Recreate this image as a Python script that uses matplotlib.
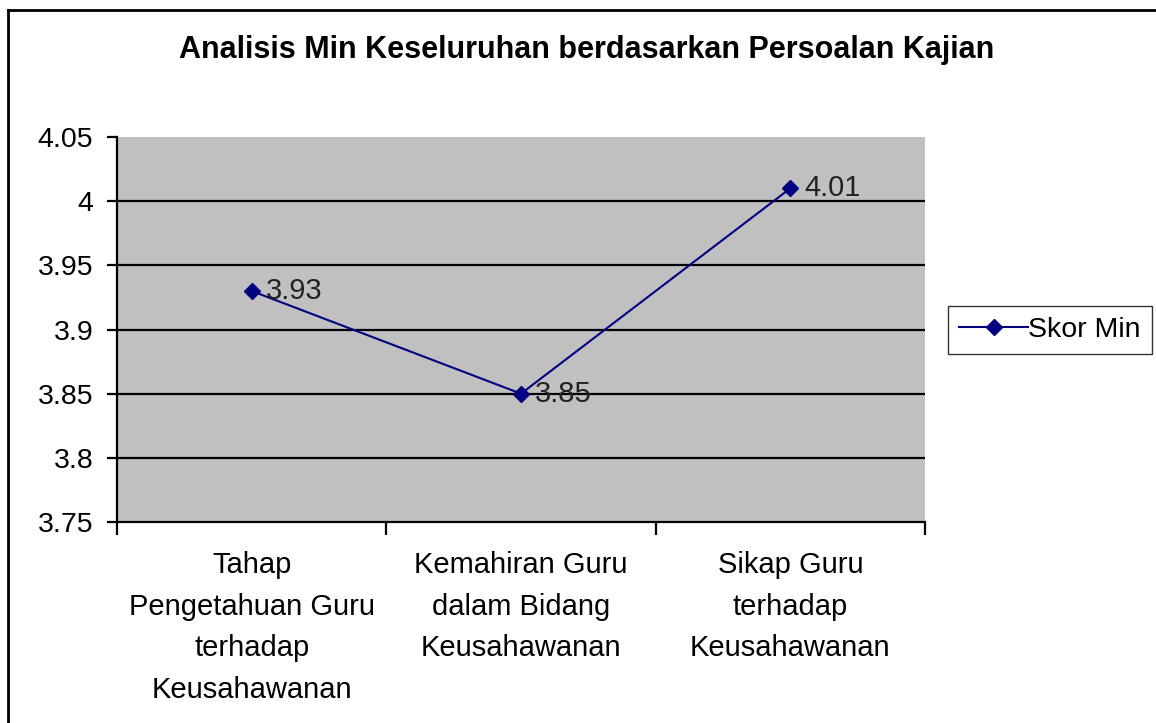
import matplotlib
matplotlib.use("Agg")
from matplotlib import pyplot as plt
from matplotlib.lines import Line2D

# data
categories = ["Tahap\nPengetahuan Guru\nterhadap\nKeusahawanan",
              "Kemahiran Guru\ndalam Bidang\nKeusahawanan",
              "Sikap Guru\nterhadap\nKeusahawanan"]
skor_min = [3.93, 3.85, 4.01]
y_ticks = [3.75, 3.8, 3.85, 3.9, 3.95, 4.0, 4.05]
y_labels = ["3.75", "3.8", "3.85", "3.9", "3.95", "4", "4.05"]

plt.rcParams['font.family'] = ['Liberation Sans', 'DejaVu Sans']

W, H = 1156, 723
f = plt.figure(figsize=(W / 100, H / 100), dpi=100)
ax = f.add_axes([117 / W, 1 - 522 / H, (925 - 117) / W, (522 - 137) / H])
ax.set_facecolor('#c0c0c0')

x = [1, 2, 3]
ax.set_xlim(0.5, 3.5)
ax.set_ylim(3.75, 4.05)

# gridlines
for v in y_ticks[1:-1]:
    ax.axhline(v, color='black', lw=1.6, zorder=1)

ax.plot(x, skor_min, color='#000080', lw=1.5, marker='D', markersize=8,
        label='Skor Min', zorder=3)
for xi, yi in zip(x, skor_min):
    ax.annotate("%.2f" % yi, (xi, yi), xytext=(10, 0), textcoords='offset points',
                va='center', ha='left', fontsize=21, color='#222222', zorder=4)

ax.spines['top'].set_visible(False)
ax.spines['right'].set_visible(False)
ax.spines['left'].set_linewidth(1.6)
ax.spines['bottom'].set_linewidth(1.6)

ax.set_yticks(y_ticks)
ax.set_yticklabels(y_labels, fontsize=20.5)
ax.tick_params(axis='y', direction='out', length=7, width=1.6, pad=10)

ax.set_xticks([0.5, 1.5, 2.5, 3.5])
ax.set_xticklabels([])
ax.tick_params(axis='x', which='major', direction='out', length=9, width=1.6)
ax.set_xticks(x, minor=True)
ax.set_xticklabels(categories, minor=True, fontsize=21, linespacing=1.62, va='top')
ax.tick_params(axis='x', which='minor', length=0, pad=21)

f.text(587 / W, 1 - 50 / H, "Analisis Min Keseluruhan berdasarkan Persoalan Kajian",
       ha='center', va='center', fontsize=22, fontweight='bold')

f.legend(loc='center left', bbox_to_anchor=(948 / W, 1 - 330 / H), fontsize=20.5,
         frameon=True, fancybox=False, edgecolor='black', borderpad=0.4,
         handlelength=2.4, handletextpad=0.0, borderaxespad=0)

# outer chart border
f.add_artist(Line2D([8 / W, 1], [1 - 10 / H, 1 - 10 / H], color='black', lw=2))
f.add_artist(Line2D([8 / W, 8 / W], [0, 1 - 10 / H], color='black', lw=2))

plt.savefig("out.png", dpi=100, facecolor='white')
